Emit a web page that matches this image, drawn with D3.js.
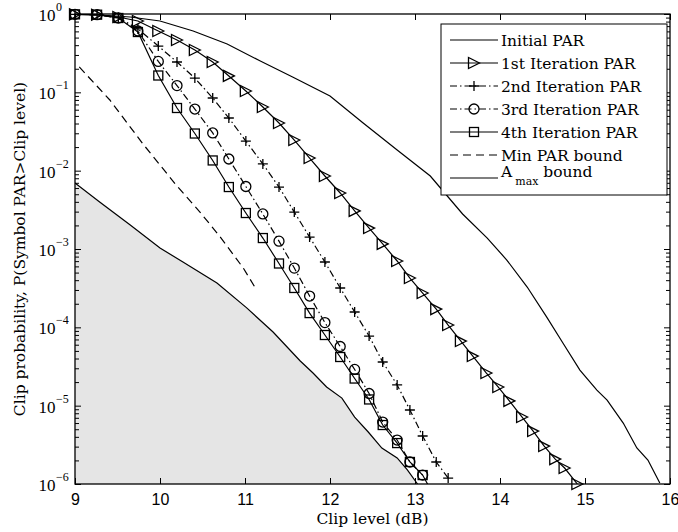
<!DOCTYPE html>
<html>
<head>
<meta charset="utf-8">
<script src="https://cdn.jsdelivr.net/npm/d3@7"></script>
<style>
  body { margin: 0; background: #fff; }
  svg { display: block; font-family: "Liberation Serif", "Times New Roman", serif; }
  .label { font-family: "DejaVu Serif", serif; }
</style>
</head>
<body>
<div id="chart"></div>
<script>
// clip levels (dB) where the iteration curves have markers
const clipLevels = [9.00, 9.26, 9.51, 9.74, 9.98, 10.20, 10.41, 10.62, 10.81, 11.01, 11.21, 11.40,
    11.58, 11.76, 11.94, 12.12, 12.29, 12.46, 12.62, 12.79, 12.94, 13.09, 13.25, 13.39, 13.54,
    13.68, 13.84, 13.98, 14.11, 14.26, 14.39, 14.52, 14.65, 14.76, 14.91];

// clip probabilities per iteration (same clip levels, truncated at 1e-6)
const iter1 = [0.99, 0.98, 0.916, 0.814, 0.607, 0.466, 0.347, 0.244, 0.162, 0.104, 0.065, 0.0406,
    0.0246, 0.0145, 0.00855, 0.00519, 0.00306, 0.00185, 0.00116, 7.03e-4, 4.26e-4, 2.74e-4,
    1.71e-4, 1.07e-4, 6.68e-5, 4.30e-5, 2.61e-5, 1.73e-5, 1.15e-5, 7.16e-6, 4.74e-6, 3.05e-6,
    2.08e-6, 1.60e-6, 1.0e-6];
const iter2 = [0.99, 0.98, 0.90, 0.644, 0.390, 0.244, 0.152, 0.0847, 0.0470, 0.0239, 0.0122,
    0.00618, 0.00296, 0.00142, 6.82e-4, 3.18e-4, 1.57e-4, 7.74e-5, 3.61e-5, 1.84e-5, 8.81e-6,
    4.10e-6, 1.91e-6, 1.19e-6];
const iter3 = [0.99, 0.98, 0.889, 0.607, 0.248, 0.122, 0.0612, 0.0303, 0.0141, 0.00628, 0.00280,
    0.00126, 5.71e-4, 2.51e-4, 1.15e-4, 5.69e-5, 2.90e-5, 1.43e-5, 6.18e-6, 3.64e-6, 1.91e-6, 1.30e-6];
const iter4 = [0.99, 0.98, 0.889, 0.589, 0.164, 0.0631, 0.0298, 0.0135, 0.00618, 0.00288, 0.00138,
    6.53e-4, 3.18e-4, 1.52e-4, 7.98e-5, 4.18e-5, 2.22e-5, 1.20e-5, 5.66e-6, 3.33e-6, 1.91e-6,
    1.30e-6, 6.25e-7];

// initial PAR curve
const initialX = [9.0, 9.29, 9.65, 10.0, 10.39, 10.79, 11.18, 11.56, 12.0, 12.39, 12.79, 13.18,
    13.56, 13.85, 14.08, 14.32, 14.55, 14.74, 14.94, 15.14, 15.26, 15.45, 15.61, 15.74, 15.88];
const initialY = [0.99, 0.971, 0.916, 0.814, 0.607, 0.414, 0.251, 0.157, 0.0898, 0.0406, 0.0184,
    0.00855, 0.0028, 0.00138, 7.23e-4, 3.27e-4, 1.35e-4, 6.31e-5, 2.85e-5, 1.58e-5, 1.18e-5,
    6.0e-6, 2.88e-6, 2.02e-6, 1.03e-6];

// min PAR bound
const minBoundX = [9.05, 9.41, 9.80, 10.18, 10.47, 10.71, 10.98, 11.13];
const minBoundY = [0.211, 0.0798, 0.0219, 0.00676, 0.00296, 0.00142, 5.71e-4, 3.08e-4];

// A_max bound (edge of the grey region)
const amaxX = [9.0, 9.29, 9.65, 10.0, 10.27, 10.67, 11.02, 11.33, 11.65, 11.80, 11.96, 12.14,
    12.29, 12.45, 12.61, 12.79, 12.91, 13.03];
const amaxY = [6.96e-3, 3.98e-3, 2.02e-3, 1.03e-3, 6.82e-4, 3.68e-4, 1.77e-4, 8.71e-5, 3.72e-5,
    2.61e-5, 1.73e-5, 1.25e-5, 7.16e-6, 4.61e-6, 2.88e-6, 2.15e-6, 1.51e-6, 1.0e-6];

const xTicks = [9, 10, 11, 12, 13, 14, 15, 16];
const yExponents = [0, -1, -2, -3, -4, -5, -6];
const legendLabels = ["Initial PAR", "1st Iteration PAR", "2nd Iteration PAR",
    "3rd Iteration PAR", "4th Iteration PAR", "Min PAR bound", "A"];

let width = 678,
    height = 532;
let plotLeft = 75, plotRight = 670, plotTop = 14, plotBottom = 484;

let x = d3.scaleLinear().domain([9, 16]).range([plotLeft, plotRight]);
let y = d3.scaleLog().domain([1e-6, 1]).range([plotBottom, plotTop]);

let svg = d3.select('#chart')
            .append('svg')
            .attr('width', width)
            .attr('height', height);

svg.append("defs").append("clipPath")
    .attr("id", "plotclip")
    .append("rect")
    .attr("x", plotLeft).attr("y", plotTop)
    .attr("width", plotRight - plotLeft).attr("height", plotBottom - plotTop);

const plot = svg.append("g").attr("clip-path", "url(#plotclip)");

const zip = (xs, ys) => xs.slice(0, ys.length).map((v, i) => [v, ys[i]]);
const line = d3.line().x(d => x(d[0])).y(d => y(d[1]));

//grey region under the A_max bound
plot.append("path")
    .datum(zip(amaxX, amaxY))
    .attr("d", d3.area().x(d => x(d[0])).y0(plotBottom).y1(d => y(d[1])))
    .attr("fill", "#e5e5e5");

//marker shapes
const markers = {
    tri: (g, cx, cy) => g.append("path").attr("d",
        `M${cx + 5.5},${cy}L${cx - 5.5},${cy - 5.5}L${cx - 5.5},${cy + 5.5}Z`),
    plus: (g, cx, cy) => g.append("path").attr("d",
        `M${cx - 5},${cy}H${cx + 5}M${cx},${cy - 5}V${cy + 5}`),
    circle: (g, cx, cy) => g.append("circle").attr("cx", cx).attr("cy", cy).attr("r", 5),
    square: (g, cx, cy) => g.append("rect").attr("x", cx - 4.5).attr("y", cy - 4.5)
        .attr("width", 9).attr("height", 9)
};

const series = [
    {pts: zip(initialX, initialY), dash: null, marker: null},
    {pts: zip(clipLevels, iter1), dash: null, marker: "tri"},
    {pts: zip(clipLevels, iter2), dash: "7,3,1.5,3", marker: "plus"},
    {pts: zip(clipLevels, iter3), dash: "7,3,1.5,3", marker: "circle"},
    {pts: zip(clipLevels, iter4), dash: null, marker: "square"},
    {pts: zip(minBoundX, minBoundY), dash: "8,5", marker: null},
    {pts: zip(amaxX, amaxY), dash: null, marker: null}
];

//draws curves
series.forEach(s => {
    plot.append("path")
        .datum(s.pts)
        .attr("d", line)
        .attr("fill", "none")
        .attr("stroke", "#000")
        .attr("stroke-width", 1.2)
        .attr("stroke-dasharray", s.dash);
});

//draws markers (not clipped, like matlab)
const mg = svg.append("g")
    .attr("fill", "none")
    .attr("stroke", "#000")
    .attr("stroke-width", 1.3);
series.forEach(s => {
    if (!s.marker) return;
    s.pts.filter(d => d[1] >= 1e-6).forEach(d => markers[s.marker](mg, x(d[0]), y(d[1])));
});

//axes box
svg.append("rect")
    .attr("x", plotLeft).attr("y", plotTop)
    .attr("width", plotRight - plotLeft).attr("height", plotBottom - plotTop)
    .attr("fill", "none")
    .attr("stroke", "#000")
    .attr("stroke-width", 1.3);

const styleAxis = g => {
    g.select(".domain").remove();
    g.selectAll(".tick line").attr("stroke", "#000").attr("stroke-width", 1);
    g.selectAll("text").attr("font-size", 16).attr("font-family", null).attr("fill", "#000");
};

svg.append("g")
    .attr("transform", `translate(0,${plotBottom})`)
    .call(d3.axisBottom(x).tickValues(xTicks).tickSize(-6).tickPadding(10).tickFormat(d3.format("d")))
    .call(styleAxis);
svg.append("g")
    .attr("transform", `translate(0,${plotTop})`)
    .call(d3.axisTop(x).tickValues(xTicks).tickSize(-6).tickFormat(""))
    .call(styleAxis);

const majors = yExponents.map(e => Math.pow(10, e));
const minors = [];
yExponents.slice(1).forEach(e => {
    for (let k = 2; k <= 9; k++) minors.push(k * Math.pow(10, e));
});

[[d3.axisLeft, plotLeft], [d3.axisRight, plotRight]].forEach(([ax, pos]) => {
    svg.append("g")
        .attr("transform", `translate(${pos},0)`)
        .call(ax(y).tickValues(majors).tickSize(-6).tickFormat(""))
        .call(styleAxis);
    svg.append("g")
        .attr("transform", `translate(${pos},0)`)
        .call(ax(y).tickValues(minors).tickSize(-4).tickFormat(""))
        .call(styleAxis);
});

//y tick labels 10^k
const yl = svg.append("g").attr("fill", "#000");
yExponents.forEach(e => {
    let ty = y(Math.pow(10, e));
    yl.append("text")
        .attr("x", 55.5).attr("y", ty + 7)
        .attr("text-anchor", "end")
        .attr("font-size", 17)
        .text("10");
    yl.append("text")
        .attr("x", 56).attr("y", ty - 3)
        .attr("font-size", 12)
        .text(e === 0 ? "0" : "\u2212" + (-e));
});

//axis titles
svg.append("text")
    .attr("class", "label")
    .attr("x", (plotLeft + plotRight) / 2).attr("y", 524)
    .attr("text-anchor", "middle")
    .attr("font-size", 15.5)
    .text("Clip level (dB)");
svg.append("text")
    .attr("class", "label")
    .attr("transform", `translate(25,${(plotTop + plotBottom) / 2}) rotate(-90)`)
    .attr("text-anchor", "middle")
    .attr("font-size", 15.5)
    .text("Clip probability, P(Symbol PAR>Clip level)");

//legend
const lg = svg.append("g");
lg.append("rect")
    .attr("x", 441).attr("y", 24)
    .attr("width", 226).attr("height", 171)
    .attr("fill", "#fff")
    .attr("stroke", "#000")
    .attr("stroke-width", 1);

series.forEach((s, i) => {
    let ly = 40 + i * 23;
    lg.append("line")
        .attr("x1", 450).attr("x2", 498)
        .attr("y1", ly).attr("y2", ly)
        .attr("stroke", "#000")
        .attr("stroke-width", 1.2)
        .attr("stroke-dasharray", s.dash);
    if (s.marker) {
        let g = lg.append("g").attr("fill", "none").attr("stroke", "#000").attr("stroke-width", 1.3);
        markers[s.marker](g, 474, ly);
    }
    let t = lg.append("text")
        .attr("class", "label")
        .attr("x", 501).attr("y", i === 6 ? ly - 1 : ly + 5.5)
        .attr("font-size", 15.5)
        .text(legendLabels[i]);
    if (i === 6) {
        t.append("tspan").attr("font-size", 11).attr("dx", 3).attr("dy", 8).text("max");
        t.append("tspan").attr("dy", -8).text(" bound");
    }
});
</script>
</body>
</html>
